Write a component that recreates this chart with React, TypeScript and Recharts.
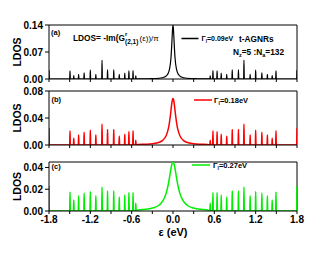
import React from 'react';
import { LineChart, Line, XAxis, YAxis, ReferenceLine } from 'recharts';

// Energies (eV) of the sharp resonances
const spikeEnergies = [
  -1.8, -1.495, -1.44, -1.37, -1.29, -1.2, -1.12, -1.03, -0.95, -0.86, -0.78, -0.7, -0.64, -0.58, -0.54,
  0.54, 0.58, 0.64, 0.7, 0.78, 0.86, 0.95, 1.03, 1.12, 1.2, 1.29, 1.37, 1.44, 1.495, 1.8,
];
// Resonance heights, panel (a) Γ=0.09 eV
const spikesA = [
  0.023, 0.021, 0.009, 0.012, 0.016, 0.023, 0.012, 0.049, 0.024, 0.024, 0.012, 0.015, 0.021, 0.022, 0.008,
  0.008, 0.022, 0.021, 0.015, 0.012, 0.024, 0.024, 0.049, 0.012, 0.023, 0.016, 0.012, 0.009, 0.021, 0.023,
];
// panel (b) Γ=0.18 eV
const spikesB = [
  0.025, 0.021, 0.01, 0.015, 0.019, 0.022, 0.015, 0.031, 0.023, 0.023, 0.013, 0.016, 0.02, 0.021, 0.007,
  0.007, 0.021, 0.02, 0.016, 0.013, 0.023, 0.023, 0.031, 0.015, 0.022, 0.019, 0.015, 0.01, 0.021, 0.025,
];
// panel (c) Γ=0.27 eV
const spikesC = [
  0.023, 0.0175, 0.01, 0.014, 0.0165, 0.018, 0.014, 0.022, 0.0185, 0.0185, 0.0128, 0.0147, 0.0169, 0.0169, 0.0072,
  0.0072, 0.0169, 0.0169, 0.0147, 0.0128, 0.0185, 0.0185, 0.022, 0.014, 0.018, 0.0165, 0.014, 0.01, 0.0175, 0.023,
];

// Central peak, panel (a)
const peakEnergiesA = [-0.5, -0.35, -0.2, -0.12, -0.08, -0.05, -0.03, -0.02, -0.01, -0.005, 0, 0.005, 0.01, 0.02, 0.03, 0.05, 0.08, 0.12, 0.2, 0.35, 0.5];
const peakA = [0.0003, 0.0007, 0.002, 0.0053, 0.0115, 0.026, 0.054, 0.082, 0.118, 0.133, 0.139, 0.133, 0.118, 0.082, 0.054, 0.026, 0.0115, 0.0053, 0.002, 0.0007, 0.0003];
// Central peak, panel (b)
const peakEnergiesB = [-0.5, -0.4, -0.3, -0.2, -0.15, -0.1, -0.08, -0.06, -0.04, -0.02, -0.01, 0, 0.01, 0.02, 0.04, 0.06, 0.08, 0.1, 0.15, 0.2, 0.3, 0.4, 0.5];
const peakB = [0.0007, 0.0011, 0.0019, 0.0041, 0.0069, 0.0138, 0.0194, 0.028, 0.042, 0.0595, 0.0663, 0.069, 0.0663, 0.0595, 0.042, 0.028, 0.0194, 0.0138, 0.0069, 0.0041, 0.0019, 0.0011, 0.0007];
// Central peak, panel (c)
const peakEnergiesC = [-0.5, -0.4, -0.3, -0.2, -0.15, -0.1, -0.075, -0.05, -0.03, -0.015, 0, 0.015, 0.03, 0.05, 0.075, 0.1, 0.15, 0.2, 0.3, 0.4, 0.5];
const peakC = [0.001, 0.0015, 0.0027, 0.0055, 0.009, 0.0162, 0.0225, 0.0311, 0.0388, 0.0433, 0.045, 0.0433, 0.0388, 0.0311, 0.0225, 0.0162, 0.009, 0.0055, 0.0027, 0.0015, 0.001];

const xTicks = [-1.8, -1.5, -1.2, -0.9, -0.6, -0.3, 0, 0.3, 0.6, 0.9, 1.2, 1.5, 1.8];
const xLabelTicks = [-1.8, -1.2, -0.6, 0, 0.6, 1.2, 1.8];
const yTicksA = [0, 0.07, 0.14];
const yTicksB = [0, 0.04, 0.08];
const yTicksC = [0, 0.02, 0.04];

const SPIKE_HALF = 0.005;
const FONT = 'Arial, "Liberation Sans", Helvetica, sans-serif';
const COLOR_A = '#000000';
const COLOR_B = '#ff0000';
const COLOR_C = '#00ee00';

type Pt = { e: number; v: number };

function buildSeries(spikes: number[], peakE: number[], peakV: number[]): Pt[] {
  const pts: Pt[] = [];
  spikeEnergies.forEach((e, i) => {
    if (e > -1.8) pts.push({ e: e - SPIKE_HALF, v: 0 });
    pts.push({ e, v: spikes[i] });
    if (e < 1.8) pts.push({ e: e + SPIKE_HALF, v: 0 });
  });
  peakE.forEach((e, i) => pts.push({ e, v: peakV[i] }));
  pts.sort((a, b) => a.e - b.e);
  return pts;
}

const dataA = buildSeries(spikesA, peakEnergiesA, peakA);
const dataB = buildSeries(spikesB, peakEnergiesB, peakB);
const dataC = buildSeries(spikesC, peakEnergiesC, peakC);

const LdosLabel = (props: any) => {
  const vb = props.viewBox || {};
  const cy = vb.y + vb.height / 2;
  return (
    <text
      x={17}
      y={cy}
      transform={`rotate(-90, 17, ${cy})`}
      textAnchor="middle"
      dominantBaseline="central"
      fontSize={10.5}
      fontWeight="bold"
      fontFamily={FONT}
      fill="#000"
    >
      LDOS
    </text>
  );
};

const EnergyLabel = (props: any) => {
  const vb = props.viewBox || {};
  return (
    <text
      x={vb.x + vb.width / 2}
      y={232}
      textAnchor="middle"
      dominantBaseline="central"
      fontSize={11}
      fontWeight="bold"
      fontFamily={FONT}
      fill="#000"
    >
      ε (eV)
    </text>
  );
};

type PanelProps = {
  data: Pt[];
  color: string;
  yMax: number;
  yTicks: number[];
  top: number;
  bottom: number;
  showX: boolean;
  strokeWidth: number;
};

function Panel({ data, color, yMax, yTicks, top, bottom, showX, strokeWidth }: PanelProps) {
  const xAxisH = showX ? 32 : 8;
  const tickStyle = { fill: '#000', fontSize: 10, fontWeight: 'bold', fontFamily: FONT };
  return (
    <div style={{ position: 'absolute', left: 0, top: 0, width: 330, height: 254 }}>
      <LineChart
        width={330}
        height={254}
        data={data}
        margin={{ top, right: 33, bottom: 254 - bottom - xAxisH, left: 0 }}
      >
        <XAxis
          type="number"
          dataKey="e"
          domain={[-1.8, 1.8]}
          ticks={xTicks}
          interval={0}
          allowDataOverflow
          height={xAxisH}
          tickSize={3}
          stroke="#000"
          tick={tickStyle}
          tickFormatter={(v: number) =>
            showX && xLabelTicks.some((t) => Math.abs(t - v) < 1e-6) ? v.toFixed(1) : ''
          }
          label={showX ? <EnergyLabel /> : undefined}
        />
        <YAxis
          type="number"
          domain={[0, yMax]}
          ticks={yTicks}
          interval={0}
          allowDataOverflow
          width={49}
          tickSize={4}
          stroke="#000"
          tick={tickStyle}
          tickFormatter={(v: number) => v.toFixed(2)}
          label={<LdosLabel />}
        />
        <ReferenceLine y={yMax} stroke="#000" strokeWidth={1} />
        <ReferenceLine x={1.8} stroke="#000" strokeWidth={1} />
        <Line
          type="monotone"
          dataKey="v"
          stroke={color}
          strokeWidth={strokeWidth}
          dot={false}
          activeDot={false}
          isAnimationActive={false}
        />
      </LineChart>
    </div>
  );
}

export default function App() {
  const t = { fontFamily: FONT, fontWeight: 'bold' as const, fill: '#000' };
  return (
    <div style={{ position: 'absolute', left: 0, top: 0, width: 330, height: 254, background: '#fff' }}>
      <Panel data={dataA} color={COLOR_A} yMax={0.14} yTicks={yTicksA} top={25} bottom={79} showX={false} strokeWidth={1.2} />
      <Panel data={dataB} color={COLOR_B} yMax={0.08} yTicks={yTicksB} top={91} bottom={145} showX={false} strokeWidth={1.5} />
      <Panel data={dataC} color={COLOR_C} yMax={0.045} yTicks={yTicksC} top={162} bottom={211} showX={true} strokeWidth={1.5} />
      <svg width={330} height={254} style={{ position: 'absolute', left: 0, top: 0, pointerEvents: 'none' }}>
        {/* panel labels */}
        <text x={51} y={35} fontSize={7.5} {...t}>(a)</text>
        <text x={51.5} y={102} fontSize={7.5} {...t}>(b)</text>
        <text x={51.5} y={168.5} fontSize={7.5} {...t}>(c)</text>
        {/* formula */}
        <text x={73} y={41} fontSize={8.3} {...t}>LDOS= -Im(G</text>
        <text x={125} y={35.5} fontSize={6} {...t}>r</text>
        <text x={125} y={44} fontSize={6.5} {...t}>(2,1)</text>
        <text x={139.5} y={41} fontSize={8} fontFamily={FONT} fill="#000">(ε))/π</text>
        {/* legend a */}
        <line x1={181.5} x2={198.5} y1={38.5} y2={38.5} stroke={COLOR_A} strokeWidth={1.5} />
        <text x={201.5} y={41.3} fontSize={7} {...t}>
          Γ<tspan fontSize={4.5} dy={2}>l</tspan><tspan dy={-2}>=0.09eV</tspan>
        </text>
        <text x={239} y={41.5} fontSize={8.3} {...t}>t-AGNRs</text>
        <text x={233} y={54.5} fontSize={8.3} {...t}>
          N<tspan fontSize={5.5} dy={2}>z</tspan><tspan dy={-2}>=5 :N</tspan><tspan fontSize={5.5} dy={2}>a</tspan><tspan dy={-2}>=132</tspan>
        </text>
        {/* legend b */}
        <line x1={194} x2={212} y1={100} y2={100} stroke={COLOR_B} strokeWidth={1.5} />
        <text x={214} y={102.8} fontSize={7.5} {...t}>
          Γ<tspan fontSize={5} dy={2}>l</tspan><tspan dy={-2}>=0.18eV</tspan>
        </text>
        {/* legend c */}
        <line x1={192} x2={210} y1={165} y2={165} stroke={COLOR_C} strokeWidth={1.5} />
        <text x={213} y={167.8} fontSize={7.5} {...t}>
          Γ<tspan fontSize={5} dy={2}>l</tspan><tspan dy={-2}>=0.27eV</tspan>
        </text>
      </svg>
    </div>
  );
}
